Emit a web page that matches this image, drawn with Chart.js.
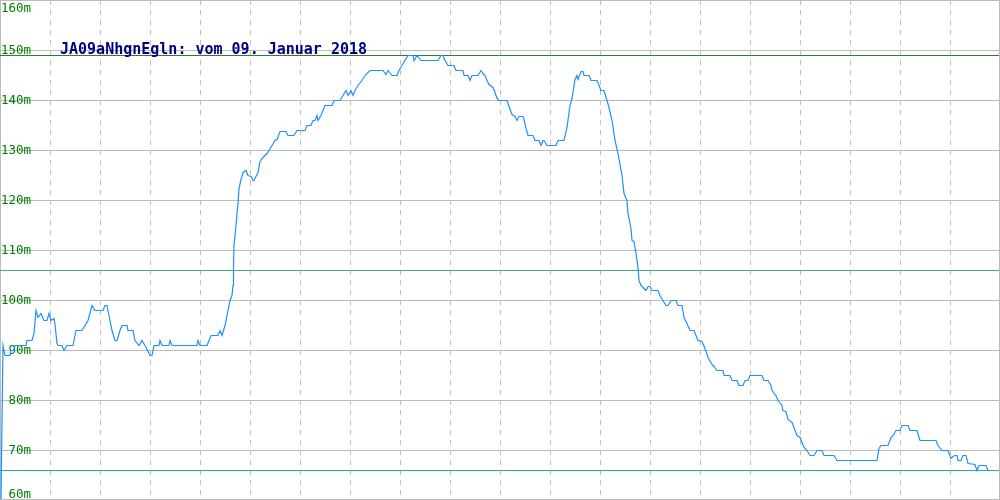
<!DOCTYPE html>
<html lang="de">
<head>
<meta charset="utf-8">
<title>JA09aNhgnEgln</title>
<script src="https://cdn.jsdelivr.net/npm/chart.js@4.4.1/dist/chart.umd.min.js"></script>
<style>
  html, body { margin: 0; padding: 0; background: #fff; }
  #pegelChart { display: block; }
</style>
</head>
<body>
<canvas id="pegelChart" width="1000" height="500"></canvas>
<script>
const TITEL = "JA09aNhgnEgln: vom 09. Januar 2018";

// Messpunkte: Zeitposition und Pegel (m)
const messX = [
    1, 2, 3, 5, 10, 11, 14, 15, 26, 27,
    32, 34, 36, 38, 41, 44, 47, 49, 51, 54,
    55, 57, 58, 62, 64, 67, 73, 76, 82, 85,
    88, 92, 95, 103, 105, 107, 110, 112, 115, 117,
    120, 122, 127, 128, 133, 135, 139, 142, 145, 150,
    152, 154, 159, 160, 162, 169, 170, 172, 197, 198,
    200, 207, 211, 218, 220, 222, 225, 228, 230, 232,
    233, 233.5, 234, 236, 237, 238, 239, 241, 243, 246,
    248, 251, 253, 254, 258, 260, 263, 267, 269, 272,
    275, 277, 280, 286, 288, 294, 297, 305, 307, 311,
    313, 315, 317, 318, 321, 323, 325, 332, 334, 340,
    343, 346, 348, 351, 353, 355, 358, 362, 365, 370,
    383, 386, 388, 392, 397, 399, 402, 405, 408, 413,
    414, 417, 421, 438, 441, 443, 445, 448, 454, 456,
    463, 464, 468, 470, 472, 478, 481, 483, 485, 487,
    489, 493, 495, 497, 499, 507, 509, 512, 515, 517,
    519, 523, 524, 526, 528, 533, 535, 539, 541, 543,
    544, 547, 556, 558, 564, 567, 570, 572, 575, 577,
    578, 581, 583, 584, 589, 591, 597, 599, 601, 604,
    607, 609, 612, 615, 618, 622, 624, 627, 628, 631,
    632, 634, 636, 638, 639, 641, 644, 646, 648, 650,
    652, 658, 660, 663, 666, 668, 671, 676, 678, 682,
    684, 687, 690, 694, 698, 702, 705, 708, 712, 714,
    717, 723, 724, 730, 732, 737, 739, 743, 745, 748,
    750, 762, 764, 768, 771, 772, 776, 778, 782, 783,
    786, 788, 792, 794, 797, 800, 802, 804, 807, 810,
    814, 817, 822, 824, 834, 837, 877, 879, 881, 888,
    891, 893, 896, 900, 902, 908, 910, 917, 920, 936,
    938, 942, 948, 951, 953, 955, 957, 958, 961, 963,
    966, 968, 975, 977, 979, 986, 988
];
const pegel = [
    60, 75.6, 91, 89, 89, 90, 90, 91, 91, 92,
    92, 93.4, 98, 96.6, 97.4, 96, 96, 97.4, 96, 96.4,
    95.2, 91.4, 91, 91, 90, 91, 91, 94, 94, 95,
    96, 99, 98, 98, 99, 99, 96, 94, 92, 92,
    94, 95, 95, 94, 94, 92, 91, 92, 91, 89,
    89, 91, 91, 92, 91, 91, 92, 91, 91, 92,
    91, 91, 93, 93, 94, 93, 95, 98, 100, 101,
    103, 107, 111, 115, 117.4, 119.4, 122.4, 124.2, 125.6, 126,
    125, 124.8, 124, 124, 125.6, 127.8, 128.6, 129.4, 130, 131,
    132, 132.2, 133.8, 133.8, 133, 133, 134, 134, 135, 135,
    136, 136, 137, 136, 137, 138, 139, 139, 140, 140,
    141, 142, 141, 142, 141, 142, 143, 144, 145, 146,
    146, 145.2, 146, 145, 145, 146, 147, 148, 149, 149,
    148, 149, 148, 148, 149, 149, 148, 147, 147, 146,
    146, 145, 145, 144, 145, 145, 146, 145.4, 145, 144,
    143.2, 142.6, 141.6, 140.4, 140, 140, 138.8, 137.2, 136.8, 136,
    136.8, 136.8, 136.2, 134.4, 133, 133, 132, 132, 131, 132,
    132, 131, 131, 132, 132, 134.6, 139, 140.4, 144.2, 145,
    144.2, 145.8, 145.8, 145, 145, 144, 144, 143, 142, 142,
    140, 138.6, 136, 132, 129.4, 125, 121.4, 120, 117.4, 114.4,
    112, 111.8, 109.4, 106.6, 104, 103, 102.4, 102, 102.8, 102.8,
    102, 102, 101, 100, 99, 99, 100, 100, 99, 99,
    96.6, 95.4, 94, 94, 92, 91.8, 90.4, 88.6, 87.2, 86.8,
    86, 86, 85, 85, 84, 84, 83, 83, 84, 84,
    85, 85, 84, 84, 83, 82, 81, 80, 79, 78,
    77.8, 76.2, 75.6, 74.6, 73, 72.6, 71.6, 70.6, 70, 69,
    69, 70, 70, 69, 69, 68, 68, 70.4, 71, 71,
    72.6, 73, 74, 74, 75, 75, 74, 74, 72, 72,
    71, 70, 70, 68.4, 68.8, 69, 69, 68, 68, 69,
    69, 67.4, 67.2, 66, 67, 67, 66
];

// Grenzlinien (m)
const grenzHoch = 149;
const grenzMittel = 106;
const grenzTief = 66;

// Achsen
const yTicks = [60, 70, 80, 90, 100, 110, 120, 130, 140, 150, 160];
const xRaster = [50, 100, 150, 200, 250, 300, 350, 400, 450, 500,
    550, 600, 650, 700, 750, 800, 850, 900, 950];
const X_MIN = 0;
const X_MAX = 999;

let chart;

function grenzLinie(wert, farbe) {
    return {
        data: [{ x: X_MIN, y: wert }, { x: X_MAX, y: wert }],
        borderColor: farbe,
        borderWidth: 1,
        pointRadius: 0,
    };
}

// Achsenbeschriftung + Titel direkt auf die Zeichenflaeche
const beschriftung = {
    id: "beschriftung",
    beforeDatasetsDraw(c) {
        const ctx = c.ctx;
        const y = c.scales.y;
        ctx.save();
        ctx.font = "12.5px 'DejaVu Sans Mono', monospace";
        ctx.fillStyle = "#008000";
        ctx.textAlign = "right";
        ctx.textBaseline = "alphabetic";
        yTicks.forEach((v) => {
            const py = Math.min(Math.max(Math.floor(y.getPixelForValue(v)) + 3.5, 12), 498);
            ctx.fillText(v + "m", 31, py);
        });
        ctx.restore();
    },
    afterDraw(c) {
        const ctx = c.ctx;
        ctx.save();
        ctx.font = "bold 15px 'DejaVu Sans Mono', monospace";
        ctx.fillStyle = "#000080";
        ctx.textAlign = "left";
        ctx.textBaseline = "alphabetic";
        ctx.fillText(TITEL, 60, 53.5);
        ctx.restore();
    },
};

document.addEventListener("DOMContentLoaded", () => {
    const ctx = document.getElementById("pegelChart").getContext("2d");
    chart = new Chart(ctx, {
        type: "line",
        data: {
            datasets: [
                {
                    data: messX.map((x, i) => ({ x: x, y: pegel[i] })),
                    borderColor: "#1e90ff",
                    borderWidth: 1.2,
                    pointRadius: 0,
                    tension: 0,
                },
                grenzLinie(grenzHoch, "#2e7d2e"),
                grenzLinie(grenzMittel, "#3cb371"),
                grenzLinie(grenzTief, "#20b2aa"),
            ],
        },
        options: {
            responsive: false,
            animation: false,
            devicePixelRatio: 1,
            layout: { padding: { left: 0, top: 0, right: 1, bottom: 1 } },
            plugins: {
                legend: { display: false },
                tooltip: { enabled: false },
            },
            scales: {
                x: {
                    type: "linear",
                    min: X_MIN,
                    max: X_MAX,
                    afterBuildTicks: (s) => {
                        s.ticks = xRaster.map((v) => ({ value: v }));
                    },
                    ticks: { display: false },
                    grid: { color: "#c0c0c0", drawTicks: false },
                    border: { color: "#bbbbbb", dash: [5, 5] },
                },
                y: {
                    // 5px pro Meter, um eine halbe Zeile versetzt, damit die Linien scharf sind
                    min: 60.3,
                    max: 160.1,
                    afterBuildTicks: (s) => {
                        s.ticks = yTicks.map((v) => ({ value: v }));
                    },
                    ticks: { display: false },
                    grid: { color: "#bbbbbb", drawTicks: false },
                    border: { color: "#bbbbbb" },
                },
                rahmen: {
                    type: "linear",
                    position: "right",
                    ticks: { display: false },
                    grid: { display: false, drawTicks: false },
                    border: { color: "#bbbbbb" },
                },
            },
        },
        plugins: [beschriftung],
    });
});
</script>
</body>
</html>
